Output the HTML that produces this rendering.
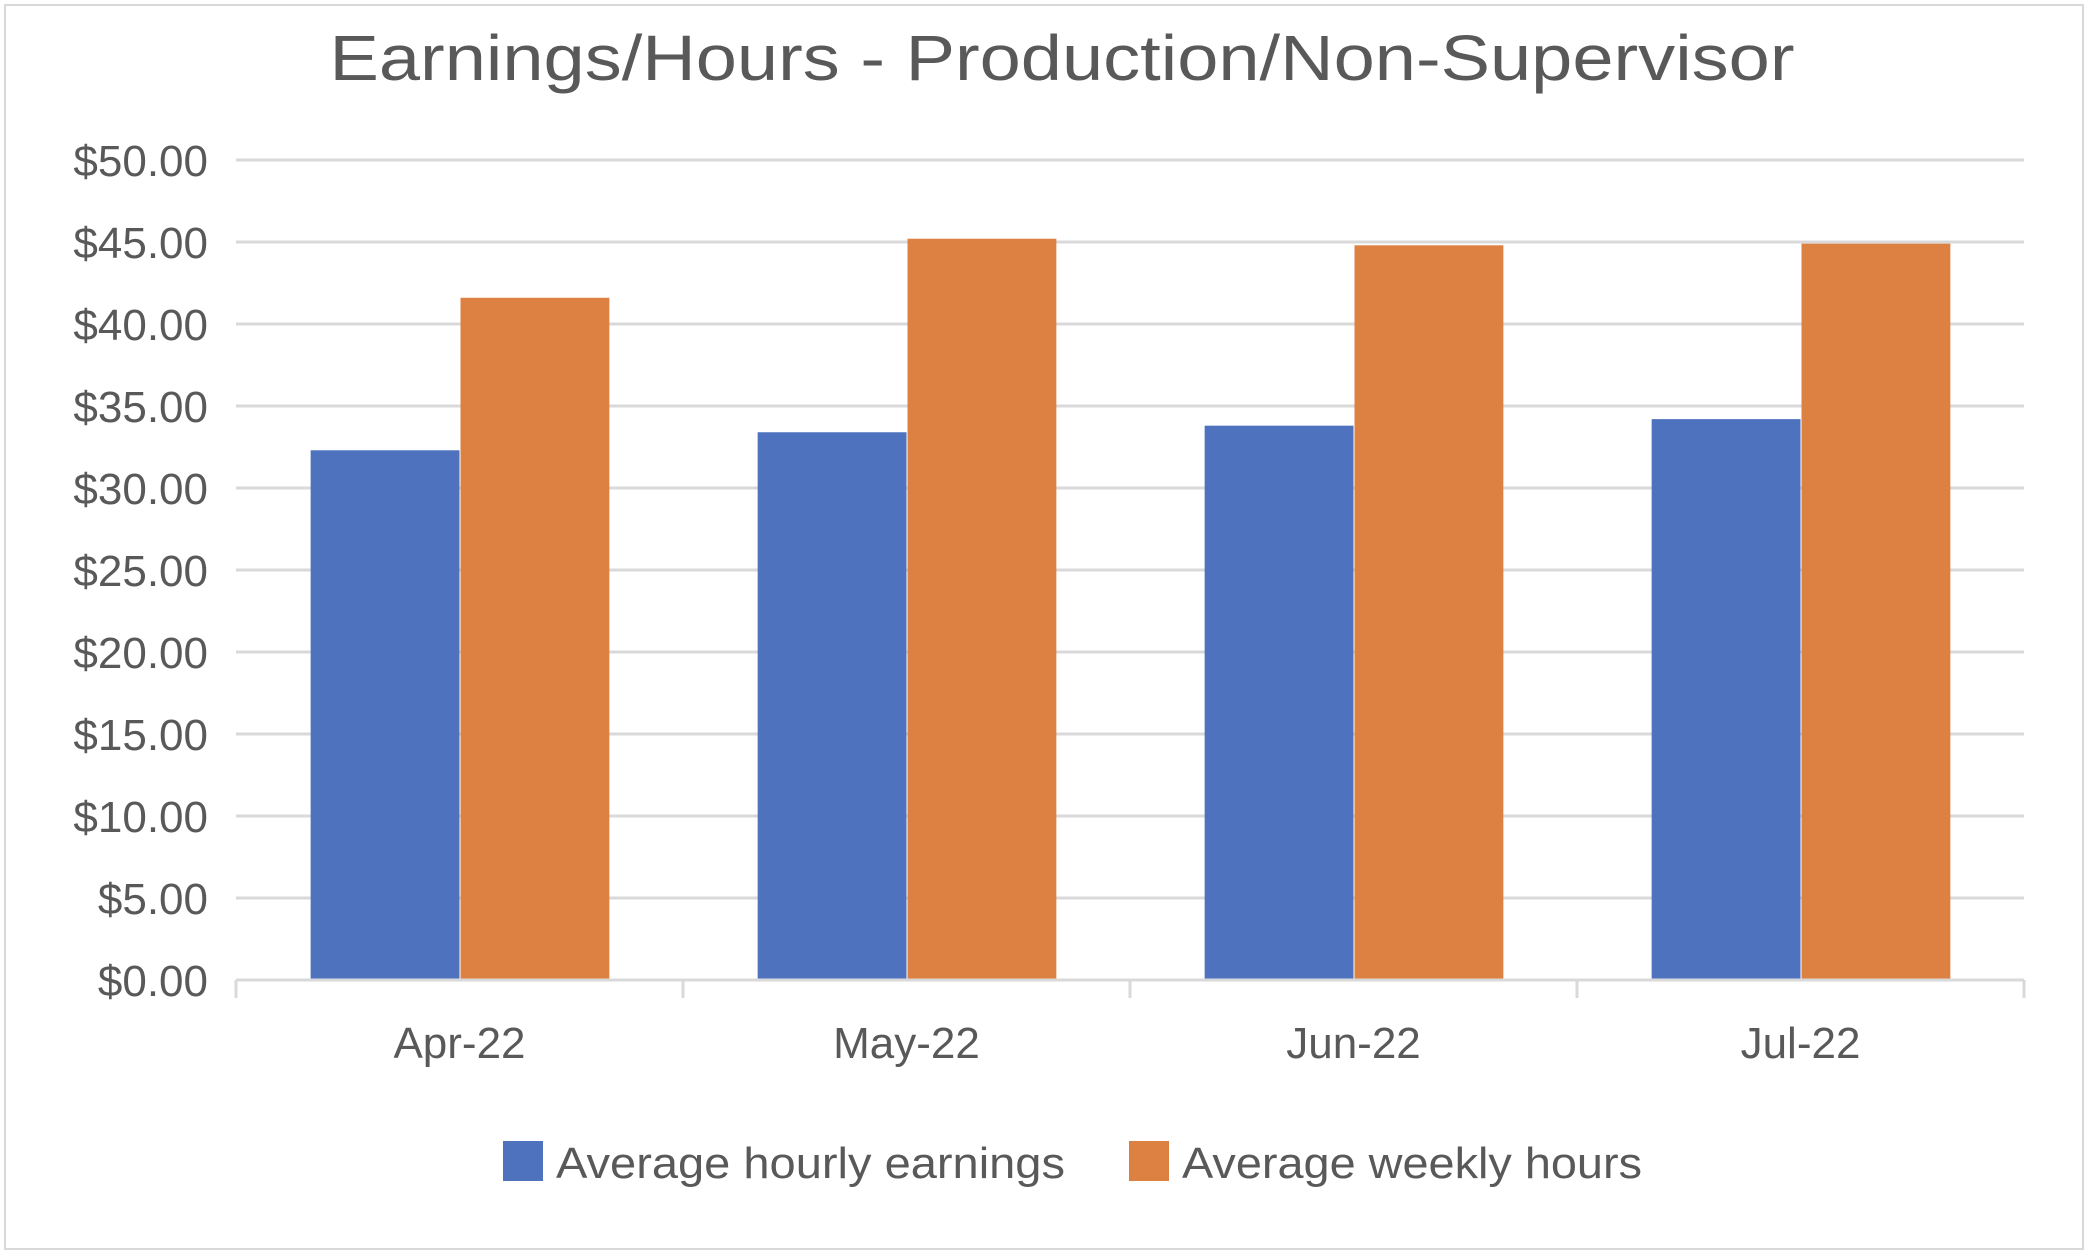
<!DOCTYPE html>
<html><head><meta charset="utf-8"><style>
html,body{margin:0;padding:0;background:#fff;}
svg{display:block;font-family:"Liberation Sans",sans-serif;}
</style></head><body>
<svg id="chart" width="2088" height="1254" viewBox="0 0 2088 1254">
<rect x="5" y="5" width="2078" height="1244" fill="#fff" stroke="#d9d9d9" stroke-width="2"/>
<text x="1062" y="80" text-anchor="middle" font-size="64" fill="#595959" textLength="1465" lengthAdjust="spacingAndGlyphs">Earnings/Hours - Production/Non-Supervisor</text>
<g id="grid"></g><g id="bars"></g><g id="axis"></g>
<g>
<rect x="503" y="1141" width="40" height="40" fill="#4f72bf"/>
<text x="556" y="1178" font-size="44" fill="#595959" textLength="509" lengthAdjust="spacingAndGlyphs">Average hourly earnings</text>
<rect x="1129" y="1141" width="40" height="40" fill="#dd8143"/>
<text x="1182" y="1178" font-size="44" fill="#595959" textLength="460" lengthAdjust="spacingAndGlyphs">Average weekly hours</text>
</g>
</svg>
<script>
const categories = ["Apr-22","May-22","Jun-22","Jul-22"];
const earnings = [32.3, 33.4, 33.8, 34.2];
const hours = [41.6, 45.2, 44.8, 44.9];
const tickValues = [0,5,10,15,20,25,30,35,40,45,50];
const tickLabels = ["$0.00","$5.00","$10.00","$15.00","$20.00","$25.00","$30.00","$35.00","$40.00","$45.00","$50.00"];
const NS="http://www.w3.org/2000/svg";
const L=236,R=2024,Y0=980,Y1=160,VMAX=50;
const y=v=>Y0-(v/VMAX)*(Y0-Y1);
const bw=(R-L)/categories.length;
const x=i=>L+i*bw;
function mk(tag,attrs,parent,txt){const e=document.createElementNS(NS,tag);for(const k in attrs)e.setAttribute(k,attrs[k]);if(txt!==undefined)e.textContent=txt;parent.appendChild(e);return e;}
const grid=document.getElementById('grid'),bars=document.getElementById('bars'),axis=document.getElementById('axis');
tickValues.forEach((v,i)=>{
  if(v>0){const g=mk('line',{x1:L,x2:R,y1:y(v),y2:y(v),stroke:'#d9d9d9','stroke-width':3},grid);
  
  }
  const t=mk('text',{x:208,y:y(v)+16,'text-anchor':'end','font-size':44,fill:'#595959'},axis,tickLabels[i]);
  
  
});
const barW=bw*0.333;
categories.forEach((c,i)=>{
  const cx=x(i)+bw/2;
  const b1=mk('rect',{x:cx-barW,y:y(earnings[i]),width:barW,height:Y0-y(earnings[i]),fill:'#4f72bf'},bars);
  
  
  const b2=mk('rect',{x:cx+1,y:y(hours[i]),width:barW,height:Y0-y(hours[i]),fill:'#dd8143'},bars);
  
  
  const t=mk('text',{x:cx,y:1058,'text-anchor':'middle','font-size':44,fill:'#595959'},axis,c);
  
  
});
const ax=mk('line',{x1:L,x2:R,y1:Y0,y2:Y0,stroke:'#d9d9d9','stroke-width':3},axis);


for(let i=0;i<=categories.length;i++){
  const tk=mk('line',{x1:x(i),x2:x(i),y1:Y0,y2:Y0+18,stroke:'#d9d9d9','stroke-width':3},axis);
  
  
}
</script>
</body></html>
